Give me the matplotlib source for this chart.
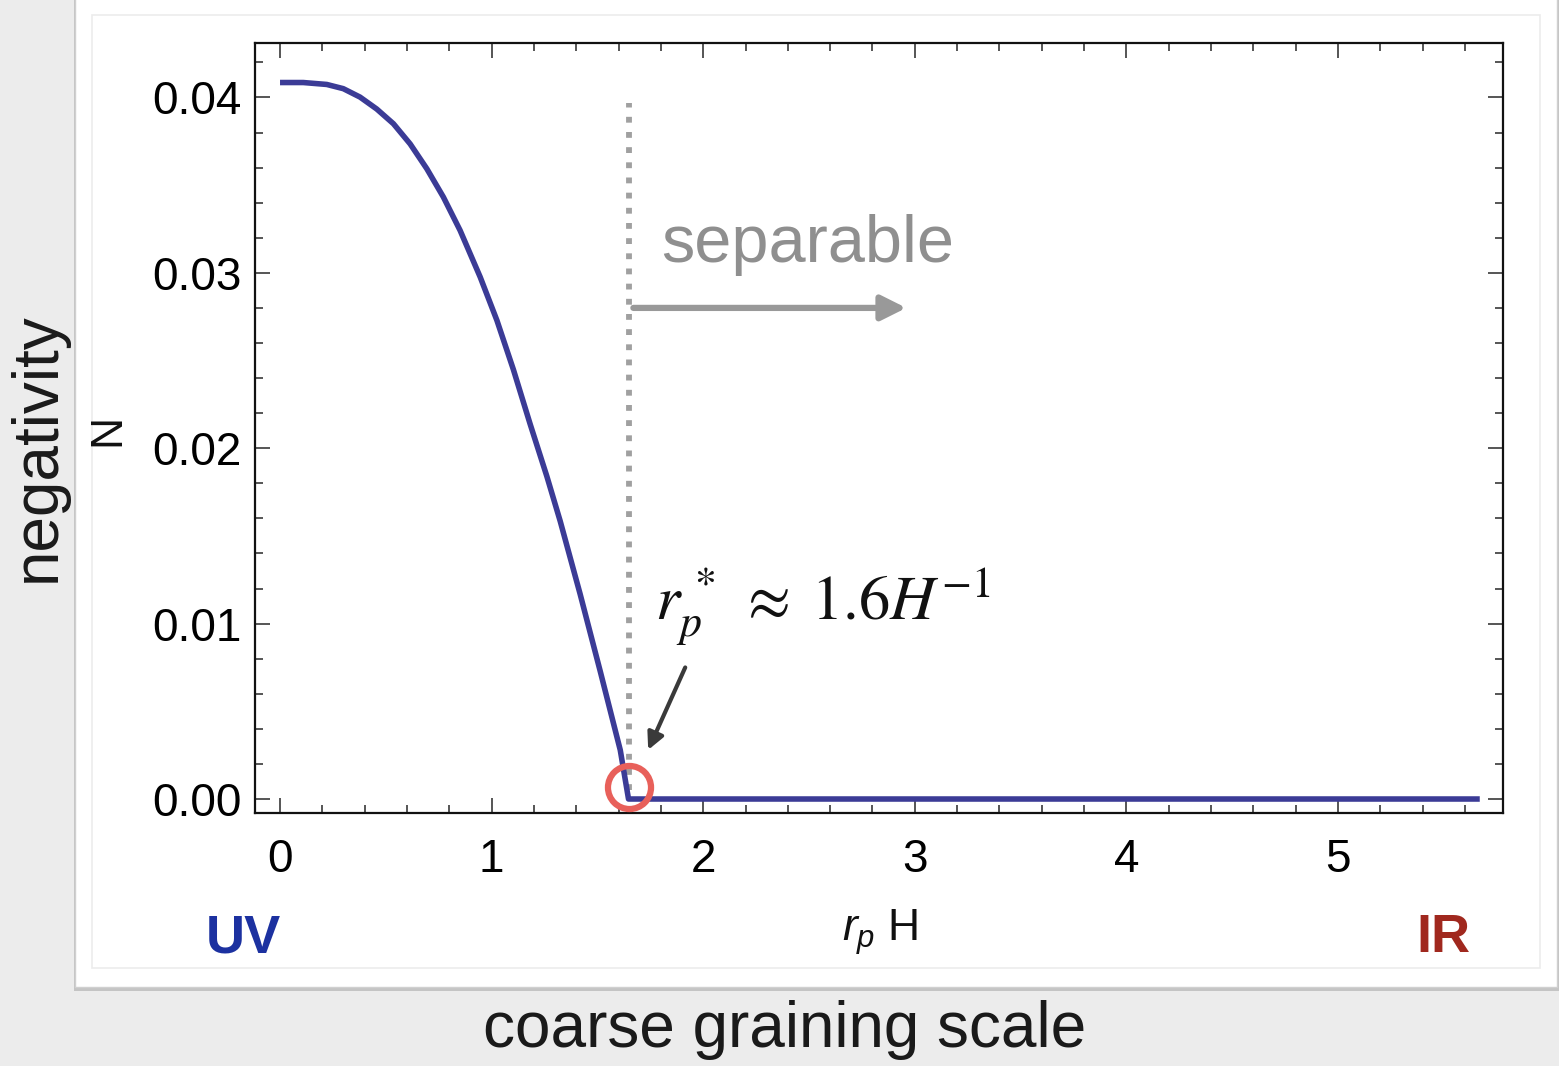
import numpy as np
import matplotlib
matplotlib.use("Agg")
import matplotlib.pyplot as plt
from matplotlib.patches import Rectangle
from matplotlib.ticker import MultipleLocator

plt.rcParams['font.family'] = ['Liberation Sans', 'DejaVu Sans']
plt.rcParams['mathtext.fontset'] = 'custom'
plt.rcParams['mathtext.it'] = 'Liberation Sans:italic'
plt.rcParams['mathtext.rm'] = 'Liberation Sans'

# negativity N vs coarse graining scale r_p H
rp_H = [0.0, 0.110, 0.221, 0.299, 0.378, 0.457, 0.536, 0.615, 0.694, 0.772, 0.851,
        0.946, 1.025, 1.103, 1.182, 1.261, 1.324, 1.418, 1.513, 1.608, 1.647, 5.67]
negativity = [0.04085, 0.04085, 0.04074, 0.04050, 0.04002, 0.03934, 0.03850, 0.03735, 0.03593, 0.03432, 0.03242,
              0.02976, 0.02729, 0.02448, 0.02138, 0.01840, 0.01585, 0.01170, 0.00730, 0.00279, 0.0, 0.0]

r_star = 1.647
x_ticks = [0, 1, 2, 3, 4, 5]
y_ticks = [0.00, 0.01, 0.02, 0.03, 0.04]
y_ticklabels = ["0.00", "0.01", "0.02", "0.03", "0.04"]

fig = plt.figure(figsize=(15.59, 10.66), dpi=100)
fig.patch.set_facecolor('#ececec')

# white card with a soft shadow behind the plot
fig.add_artist(Rectangle((0.0475, 0.0705), 0.953, 0.95, transform=fig.transFigure,
                         facecolor='#c4c4c4', edgecolor='none', zorder=-3))
fig.add_artist(Rectangle((0.0481, 0.0741), 0.9506, 0.95, transform=fig.transFigure,
                         facecolor='white', edgecolor='#d0d0d0', lw=1, zorder=-2))
fig.add_artist(Rectangle((0.059, 0.0919), 0.9288, 0.894, transform=fig.transFigure,
                         facecolor='none', edgecolor='#ececec', lw=1.2, zorder=-1))

ax = fig.add_axes([0.1636, 0.2373, 0.8005, 0.7223])
ax.plot(rp_H, negativity, color='#3b3b96', lw=4, solid_capstyle='butt', solid_joinstyle='round', zorder=3)

ax.vlines(r_star, 0.0005, 0.0397, colors='#a0a0a0', linestyles=(0, (1, 1.6)), lw=4.2, zorder=2)

# red ring at the crossing
ax.plot([r_star], [0.0007], marker='o', ms=31, mfc='none', mec='#e8605a', mew=4.5, zorder=4)

# separable arrow and label
ax.annotate('', xy=(2.96, 0.028), xytext=(1.67, 0.028),
            arrowprops=dict(arrowstyle='-|>,head_length=1.5,head_width=0.75', color='#999999', lw=4.5,
                            shrinkA=0, shrinkB=0))
ax.text(1.80, 0.0316, 'separable', color='#8f8f8f', fontsize=48, ha='left', va='center')

# r_p^* annotation
ax.annotate('', xy=(1.74, 0.0028), xytext=(1.915, 0.0075),
            arrowprops=dict(arrowstyle='-|>,head_length=1.0,head_width=0.5', color='#3a3a3a', lw=3,
                            shrinkA=0, shrinkB=0))
ax.text(1.77, 0.0102, r'$r_p^{\,*}\;\approx\;1.6H^{-1}$', fontsize=45, math_fontfamily='stix',
        ha='left', va='baseline', color='#111111')

ax.set_xlim(-0.118, 5.78)
ax.set_ylim(-0.0008, 0.0431)
ax.set_xticks(x_ticks)
ax.set_yticks(y_ticks)
ax.set_yticklabels(y_ticklabels)
ax.xaxis.set_minor_locator(MultipleLocator(0.2))
ax.yaxis.set_minor_locator(MultipleLocator(0.002))
ax.tick_params(which='both', direction='in', top=True, right=True, color='#555555', width=1.4,
               labelsize=33, labelcolor='black')
ax.tick_params(which='major', length=11)
ax.tick_params(which='minor', length=6)
ax.tick_params(axis='y', which='major', pad=10)
ax.tick_params(axis='x', which='major', pad=18)
for s in ax.spines.values():
    s.set_linewidth(1.6)
    s.set_color('#111111')

fig.text(0.0244, 0.581, 'negativity', rotation=90, fontsize=46, ha='center', va='center', color='#1a1a1a')
fig.text(0.0693, 0.5966, 'N', rotation=90, fontsize=32, ha='center', va='center', color='#111111')
fig.text(0.5645, 0.1257, r'$r_p$ H', fontsize=32, ha='center', va='center', color='#111111')
fig.text(0.1559, 0.12, 'UV', fontsize=39, fontweight='bold', ha='center', va='center', color='#1c31a0')
fig.text(0.9256, 0.12, 'IR', fontsize=39, fontweight='bold', ha='center', va='center', color='#a0281e')
fig.text(0.503, 0.034, 'coarse graining scale', fontsize=46, ha='center', va='center', color='#1a1a1a')

fig.savefig('out.png', dpi=100, facecolor=fig.get_facecolor())
